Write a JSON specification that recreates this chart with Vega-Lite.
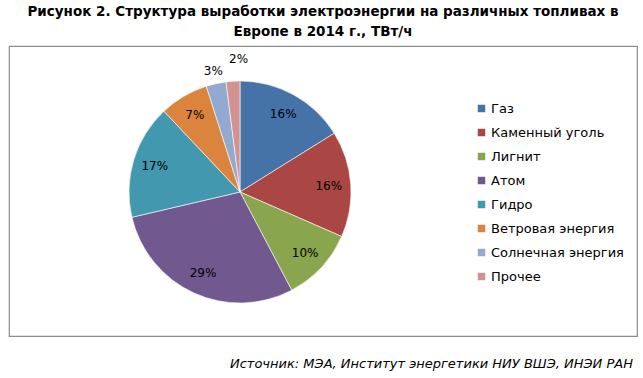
{
  "$schema": "https://vega.github.io/schema/vega-lite/v6.json",
  "padding": {"left": 8, "top": 4, "right": 7, "bottom": 0},
  "background": "white",
  "title": {
    "text": ["Рисунок 2. Структура выработки электроэнергии на различных топливах в", "Европе в  2014 г., ТВт/ч"],
    "anchor": "middle",
    "font": "DejaVu Sans",
    "fontSize": 13.5,
    "fontWeight": "bold",
    "color": "#000000",
    "lineHeight": 20,
    "offset": 7
  },
  "config": {
    "view": {"stroke": "#8c8c8c", "strokeWidth": 1.2},
    "font": "DejaVu Sans"
  },
  "vconcat": [
    {
      "width": 628,
      "height": 290,
      "view": {"stroke": "#8c8c8c", "strokeWidth": 1.2, "fill": "white"},
      "title": {
        "text": "Источник: МЭА, Институт энергетики НИУ ВШЭ, ИНЭИ РАН",
        "orient": "bottom",
        "anchor": "end",
        "font": "DejaVu Sans",
        "fontStyle": "italic",
        "fontWeight": "normal",
        "fontSize": 13,
        "color": "#000000",
        "offset": 22,
        "dx": -4
      },
      "data": {
        "values": [
          {"n": 1, "name": "Газ", "value": 16.1, "label": "16%", "pos": "in"},
          {"n": 2, "name": "Каменный  уголь", "value": 15.4, "label": "16%", "pos": "in"},
          {"n": 3, "name": "Лигнит", "value": 10.7, "label": "10%", "pos": "in"},
          {"n": 4, "name": "Атом", "value": 29.0, "label": "29%", "pos": "in"},
          {"n": 5, "name": "Гидро", "value": 16.6, "label": "17%", "pos": "in"},
          {"n": 6, "name": "Ветровая энергия", "value": 7.1, "label": "7%", "pos": "in"},
          {"n": 7, "name": "Солнечная энергия", "value": 2.9, "label": "3%", "pos": "out"},
          {"n": 8, "name": "Прочее", "value": 2.0, "label": "2%", "pos": "far"}
        ]
      },
      "encoding": {
        "theta": {"field": "value", "type": "quantitative", "stack": true},
        "order": {"field": "n", "type": "quantitative"},
        "color": {
          "field": "name",
          "type": "nominal",
          "sort": null,
          "scale": {
            "domain": ["Газ", "Каменный  уголь", "Лигнит", "Атом", "Гидро", "Ветровая энергия", "Солнечная энергия", "Прочее"],
            "range": ["#4572A7", "#AA4643", "#89A54E", "#71588F", "#4198AF", "#DB843D", "#93A9CF", "#D19392"]
          },
          "legend": {
            "title": null,
            "orient": "none",
            "legendX": 466,
            "legendY": 56,
            "padding": 0,
            "symbolType": "square",
            "symbolSize": 56,
            "symbolStrokeWidth": 0,
            "labelFont": "DejaVu Sans",
            "labelFontSize": 13,
            "labelColor": "#000000",
            "labelOffset": 3,
            "rowPadding": 10
          }
        }
      },
      "layer": [
        {
          "mark": {"type": "arc", "outerRadius": 111, "x": 231, "y": 146, "stroke": "#ffffff", "strokeWidth": 0.6}
        },
        {
          "mark": {"type": "text", "radius": 89, "x": 231, "y": 146, "fontSize": 12, "font": "DejaVu Sans", "color": "#000000"},
          "encoding": {
            "text": {"condition": {"test": "datum.pos == 'in'", "field": "label"}, "value": ""},
            "color": {"value": "#000000"}
          }
        },
        {
          "mark": {"type": "text", "radius": 124, "x": 231, "y": 146, "fontSize": 12, "font": "DejaVu Sans", "color": "#000000"},
          "encoding": {
            "text": {"condition": {"test": "datum.pos == 'out'", "field": "label"}, "value": ""},
            "color": {"value": "#000000"}
          }
        },
        {
          "mark": {"type": "text", "radius": 133, "x": 231, "y": 146, "dx": 7, "fontSize": 12, "font": "DejaVu Sans", "color": "#000000"},
          "encoding": {
            "text": {"condition": {"test": "datum.pos == 'far'", "field": "label"}, "value": ""},
            "color": {"value": "#000000"}
          }
        }
      ]
    }
  ]
}
